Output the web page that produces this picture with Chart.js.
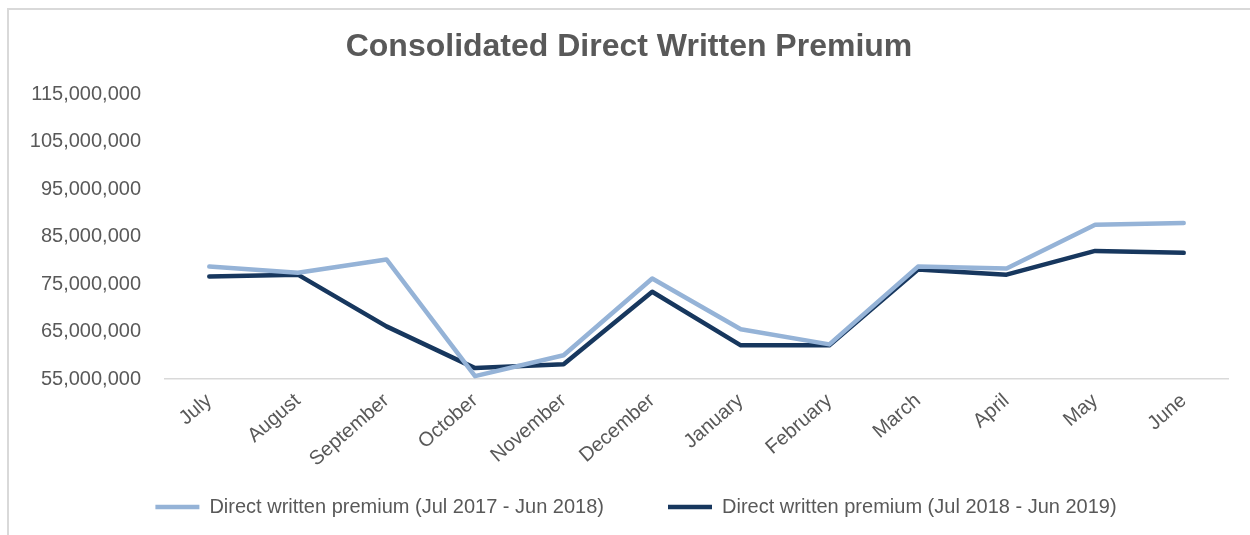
<!DOCTYPE html>
<html>
<head>
<meta charset="utf-8">
<script src="https://cdn.jsdelivr.net/npm/chart.js@4.4.1/dist/chart.umd.min.js"></script>
<style>
  html, body { margin: 0; padding: 0; background: #fff; }
  .frame {
    position: absolute; left: 7px; top: 8px; width: 1260px; height: 540px;
    border-left: 2px solid #d9d9d9; border-top: 2px solid #d9d9d9;
  }
  .wrap { position: absolute; left: 0; top: 0; width: 1250px; height: 535px; }
</style>
</head>
<body>
<div class="frame"></div>
<div class="wrap"><canvas id="myChart" width="1250" height="535"></canvas></div>
<script>
const ctx = document.getElementById('myChart');
const colorLight = '#95b3d7';
const colorDark = '#17375e';
const textGray = '#595959';

// data
const months = ['July', 'August', 'September', 'October', 'November', 'December',
  'January', 'February', 'March', 'April', 'May', 'June'];
const premium2017 = [78700000, 77400000, 80200000, 55600000, 60000000, 76200000,
  65500000, 62300000, 78700000, 78300000, 87500000, 87900000];
const premium2018 = [76600000, 77000000, 66100000, 57300000, 58100000, 73400000,
  62100000, 62100000, 78100000, 77000000, 82000000, 81600000];
const yTicks = [55000000, 65000000, 75000000, 85000000, 95000000, 105000000, 115000000];

Chart.defaults.font.family = '"Liberation Sans", Arial, sans-serif';
Chart.defaults.color = textGray;

const lineStyle = {
  borderWidth: 4.5,
  pointRadius: 0,
  pointHoverRadius: 0,
  tension: 0,
  fill: false,
  borderCapStyle: 'round',
  borderJoinStyle: 'round',
};

// legend padding is also used vertically, so move the boxes after layout
const nudge = {
  id: 'nudge',
  afterLayout(chart) {
    const lg = chart.legend;
    lg.top -= 44;
    lg.bottom = chart.height;
    lg.left += 22;
    lg.right += 22;
    const tb = chart.titleBlock;
    tb.left += 15;
    tb.right += 15;
  },
};

new Chart(ctx, {
  type: 'line',
  data: {
    labels: months,
    datasets: [
      { label: 'Direct written premium (Jul 2017 - Jun 2018)', data: premium2017,
        borderColor: colorLight, backgroundColor: colorLight, ...lineStyle },
      { label: 'Direct written premium (Jul 2018 - Jun 2019)', data: premium2018,
        borderColor: colorDark, backgroundColor: colorDark, ...lineStyle },
    ],
  },
  options: {
    responsive: false,
    animation: false,
    layout: { padding: { left: 0, right: 22, top: 0, bottom: 8 } },
    scales: {
      x: {
        offset: true,
        grid: { display: false, drawTicks: false },
        border: { display: true, color: '#d9d9d9', width: 1.5 },
        ticks: {
          font: { size: 20 },
          color: textGray,
          maxRotation: 41,
          minRotation: 41,
          autoSkip: false,
          padding: 10,
        },
        afterFit: (scale) => { scale.height = 98; },
      },
      y: {
        min: 55000000,
        max: 115000000,
        grid: { display: false, drawTicks: false },
        border: { display: false },
        afterBuildTicks: (scale) => { scale.ticks = yTicks.map((v) => ({ value: v })); },
        ticks: {
          font: { size: 20 },
          color: textGray,
          padding: 24,
          callback: (v) => v.toLocaleString('en-US'),
        },
        afterFit: (scale) => { scale.width = 165; },
      },
    },
    plugins: {
      title: {
        display: true,
        text: 'Consolidated Direct Written Premium',
        color: textGray,
        font: { size: 32, weight: 'bold' },
        padding: { top: 28, bottom: 28 },
      },
      legend: {
        position: 'bottom',
        maxHeight: 50,
        labels: {
          usePointStyle: true,
          pointStyle: 'line',
          pointStyleWidth: 44,
          font: { size: 20 },
          color: textGray,
          padding: 64,
        },
      },
      tooltip: { enabled: false },
    },
  },
  plugins: [nudge],
});
</script>
</body>
</html>
